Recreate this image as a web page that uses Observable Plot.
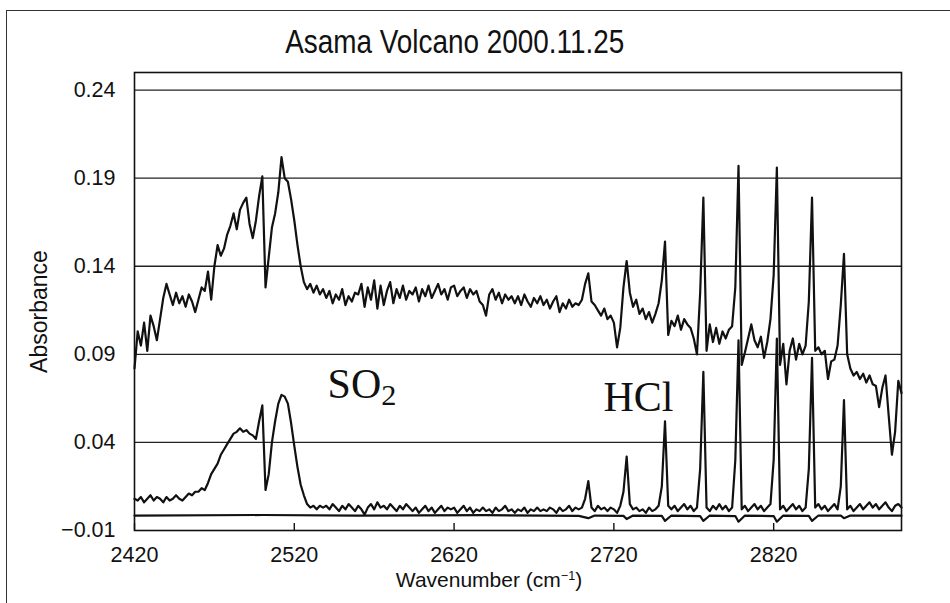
<!DOCTYPE html>
<html>
<head>
<meta charset="utf-8">
<script src="https://cdn.jsdelivr.net/npm/d3@7"></script>
<script src="https://cdn.jsdelivr.net/npm/@observablehq/plot@0.6"></script>
<style>
  body { margin: 0; background: #fff; }
  #wrap { position: relative; width: 950px; height: 603px; overflow: hidden; background: #fff; }
  #title { width: 909px; text-align: center; padding-top: 24px; height: 34px; line-height: 34px;
           font-family: "Liberation Sans", Arial, sans-serif; font-size: 34px; color: #111; }
  #title span { display: inline-block; transform: scaleX(0.82); transform-origin: 50% 50%; white-space: nowrap; }
  #border { position: absolute; left: 6px; top: 10px; width: 1000px; height: 700px;
            border-top: 1.5px solid #333; border-left: 1.5px solid #333; pointer-events: none; }
</style>
</head>
<body>
<div id="wrap">
  <div id="title"><span>Asama Volcano 2000.11.25</span></div>
  <div id="chart"></div>
  <div id="border"></div>
</div>
<script>
// Wavenumber grid of the two measured spectra (cm-1)
const waveStart = 2420;
const waveStep = 2;

// Upper spectrum (offset), absorbance values every 2 cm-1 from 2420 to 2900
const upperAbs = [
  0.082, 0.103, 0.095, 0.108, 0.092, 0.112, 0.106, 0.098, 0.110, 0.122,
  0.130, 0.124, 0.118, 0.125, 0.119, 0.123, 0.117, 0.124, 0.120, 0.114,
  0.121, 0.128, 0.126, 0.137, 0.121, 0.140, 0.152, 0.146, 0.150, 0.158,
  0.163, 0.170, 0.161, 0.172, 0.176, 0.179, 0.164, 0.156, 0.166, 0.180,
  0.191, 0.128, 0.145, 0.162, 0.170, 0.182, 0.202, 0.190, 0.188, 0.178,
  0.166, 0.152, 0.140, 0.131, 0.127, 0.130, 0.125, 0.129, 0.124, 0.127,
  0.122, 0.126, 0.119, 0.124, 0.121, 0.127, 0.118, 0.123, 0.120, 0.125,
  0.124, 0.130, 0.117, 0.128, 0.121, 0.132, 0.116, 0.129, 0.118, 0.126,
  0.131, 0.119, 0.127, 0.122, 0.129, 0.121, 0.126, 0.124, 0.128, 0.120,
  0.127, 0.123, 0.129, 0.122, 0.126, 0.130, 0.124, 0.127, 0.121, 0.128,
  0.129, 0.123, 0.126, 0.128, 0.122, 0.127, 0.124, 0.126, 0.120, 0.118,
  0.112, 0.124, 0.127, 0.121, 0.125, 0.119, 0.124, 0.121, 0.123, 0.119,
  0.123, 0.118, 0.124, 0.120, 0.117, 0.122, 0.119, 0.123, 0.118, 0.121,
  0.116, 0.120, 0.123, 0.114, 0.119, 0.116, 0.121, 0.117, 0.119, 0.118,
  0.121, 0.130, 0.136, 0.120, 0.118, 0.115, 0.112, 0.116, 0.110, 0.112,
  0.108, 0.094, 0.105, 0.128, 0.143, 0.125, 0.117, 0.121, 0.113, 0.116,
  0.110, 0.114, 0.108, 0.113, 0.119, 0.132, 0.154, 0.101, 0.109, 0.106,
  0.112, 0.104, 0.110, 0.107, 0.105, 0.099, 0.090, 0.125, 0.179, 0.092,
  0.107, 0.097, 0.105, 0.096, 0.103, 0.099, 0.104, 0.106, 0.128, 0.197,
  0.084, 0.091, 0.099, 0.107, 0.098, 0.094, 0.100, 0.088, 0.097, 0.110,
  0.135, 0.196, 0.084, 0.096, 0.073, 0.092, 0.099, 0.087, 0.096, 0.090,
  0.095, 0.120, 0.179, 0.092, 0.094, 0.090, 0.092, 0.076, 0.086, 0.087,
  0.095, 0.118, 0.147, 0.090, 0.082, 0.078, 0.080, 0.076, 0.079, 0.074,
  0.078, 0.073, 0.072, 0.060, 0.071, 0.078, 0.055, 0.033, 0.046, 0.075,
  0.068
];

// Lower spectrum, absorbance values every 2 cm-1 from 2420 to 2900
const lowerAbs = [
  0.008, 0.007, 0.009, 0.006, 0.008, 0.010, 0.007, 0.009, 0.008, 0.006,
  0.009, 0.007, 0.008, 0.010, 0.008, 0.007, 0.009, 0.011, 0.010, 0.012,
  0.012, 0.014, 0.013, 0.017, 0.022, 0.025, 0.028, 0.033, 0.036, 0.039,
  0.042, 0.045, 0.046, 0.048, 0.046, 0.047, 0.045, 0.044, 0.042, 0.052,
  0.061, 0.013, 0.022, 0.040, 0.052, 0.062, 0.067, 0.066, 0.062, 0.051,
  0.038, 0.026, 0.016, 0.010, 0.005, 0.003, 0.004, 0.002, 0.004, 0.003,
  0.004, 0.002, 0.005, 0.003, 0.001, 0.004, 0.002, 0.005, 0.003, 0.001,
  0.004, 0.002, -0.001, 0.003, 0.005, 0.002, 0.006, 0.003, 0.004, 0.002,
  0.005, 0.003, 0.001, 0.004, 0.002, 0.005, 0.003, 0.001, 0.003, 0.000,
  0.002, 0.004, 0.001, 0.003, 0.000, 0.002, 0.004, 0.001, 0.003, 0.002,
  0.003, 0.000, 0.002, 0.004, 0.001, 0.003, 0.000, 0.002, 0.001, 0.003,
  0.001, 0.002, 0.000, 0.003, 0.001, 0.002, 0.004, 0.001, 0.002, 0.000,
  0.002, 0.001, 0.003, 0.000, 0.002, 0.001, 0.003, 0.001, 0.002, 0.001,
  0.003, 0.002, 0.000, 0.003, 0.001, 0.002, 0.004, 0.001, 0.003, 0.002,
  0.003, 0.008, 0.018, 0.003, 0.001, 0.004, 0.002, 0.003, 0.001, 0.003,
  0.002, 0.000, 0.004, 0.012, 0.032, 0.005, 0.002, 0.003, 0.001, 0.002,
  0.000, 0.003, 0.001, 0.002, 0.004, 0.015, 0.052, 0.004, 0.002, 0.004,
  0.001, 0.003, 0.005, 0.002, 0.004, 0.001, 0.003, 0.025, 0.080, 0.003,
  0.001, 0.004, 0.002, 0.005, 0.002, 0.004, 0.001, 0.003, 0.030, 0.098,
  0.002, 0.004, 0.001, 0.003, 0.005, 0.002, 0.004, 0.001, 0.003, 0.005,
  0.030, 0.099, 0.002, 0.004, 0.001, 0.003, 0.005, 0.002, 0.004, 0.001,
  0.003, 0.025, 0.088, 0.003, 0.005, 0.002, 0.004, 0.001, 0.003, 0.005,
  0.002, 0.015, 0.064, 0.002, 0.004, 0.001, 0.003, 0.005, 0.002, 0.004,
  0.006, 0.003, 0.005, 0.002, 0.004, 0.006, 0.003, 0.001, 0.004, 0.005,
  0.003
];

// Near-zero baseline trace
const baseWave = [2420, 2500, 2560, 2640, 2698, 2704, 2708, 2726, 2728, 2732, 2750, 2752, 2756,
                  2774, 2776, 2780, 2796, 2798, 2802, 2820, 2822, 2826, 2842, 2844, 2848, 2862, 2864, 2868, 2900];
const baseAbs = [-0.0015, -0.0012, -0.0015, -0.0013, -0.0017, -0.003, -0.0015, -0.0017, -0.0035, -0.0015, -0.0017, -0.0045, -0.0015,
                 -0.0018, -0.0045, -0.0015, -0.0018, -0.005, -0.0015, -0.0018, -0.005, -0.0015, -0.0017, -0.0045, -0.0015, -0.0016, -0.003, -0.0015, -0.0016];

// Axes
const xTicks = [2420, 2520, 2620, 2720, 2820];
const yTicks = [-0.01, 0.04, 0.09, 0.14, 0.19, 0.24];

// Annotations (gas names) and their anchor positions in data units
const labelText = ["SO2", "HCl"];
const labelWave = [2540.8, 2713.5];
const labelAbs = [0.0652, 0.0578];

// ---- build tables
const upperRows = upperAbs.map((a, i) => ({w: waveStart + i * waveStep, a}));
const lowerRows = lowerAbs.map((a, i) => ({w: waveStart + i * waveStep, a}));
const baseRows = baseWave.map((w, i) => ({w, a: baseAbs[i]}));
const labelRows = labelText.map((t, i) => ({t, w: labelWave[i], a: labelAbs[i]}));

const ink = "#111";
const plot = Plot.plot({
  width: 950,
  height: 545,
  marginTop: 14,
  marginBottom: 73,
  marginLeft: 134,
  marginRight: 49,
  style: {fontFamily: "'Liberation Sans', Arial, sans-serif", fontSize: "21.5px", color: ink, background: "transparent", overflow: "visible"},
  x: {domain: [2420, 2900]},
  y: {domain: [-0.01, 0.25]},
  marks: [
    Plot.ruleY(yTicks.slice(1), {stroke: "#222", strokeWidth: 1.3}),
    Plot.tickX(xTicks, {stroke: ink, strokeWidth: 1.4, insetTop: 451}),
    Plot.line(baseRows, {x: "w", y: "a", stroke: ink, strokeWidth: 2.2}),
    Plot.line(lowerRows, {x: "w", y: "a", stroke: ink, strokeWidth: 2.2}),
    Plot.line(upperRows, {x: "w", y: "a", stroke: ink, strokeWidth: 2.2}),
    Plot.frame({stroke: ink, strokeWidth: 1.6}),
    Plot.axisY(yTicks, {tickSize: 0, tickPadding: 19, tickFormat: d3.format(".2f"), label: null, fontSize: 21.5}),
    Plot.axisX(xTicks, {tickSize: 0, tickPadding: 16, tickFormat: d => String(d), label: null, fontSize: 21.5}),
    Plot.text(labelRows, {x: "w", y: "a", text: "t", textAnchor: "start", lineAnchor: "bottom",
      fontFamily: "'Liberation Serif', 'Times New Roman', serif", fontSize: 42, fill: ink}),
    Plot.text(["Absorbance"], {text: d => d, frameAnchor: "left", textAnchor: "middle", lineAnchor: "middle",
      dx: -95, dy: 10, rotate: -90, fontSize: 23, fill: ink}),
    Plot.text(["Wavenumber (cm-1)"], {text: d => d, frameAnchor: "bottom", textAnchor: "middle", lineAnchor: "middle",
      dx: -29, dy: 50, fontSize: 21, fill: ink})
  ]
});
document.getElementById("chart").appendChild(plot);

// Typographic sub/superscripts as real text
const NS = "http://www.w3.org/2000/svg";
plot.querySelectorAll("text").forEach(t => {
  if (t.textContent === "SO2") {
    t.textContent = "SO";
    const s = document.createElementNS(NS, "tspan");
    s.setAttribute("font-size", "0.72em");
    s.setAttribute("dy", "0.22em");
    s.textContent = "2";
    t.appendChild(s);
  } else if (t.textContent === "Wavenumber (cm-1)") {
    t.textContent = "Wavenumber (cm";
    const s = document.createElementNS(NS, "tspan");
    s.setAttribute("font-size", "0.6em");
    s.setAttribute("dy", "-0.6em");
    s.textContent = "−1";
    t.appendChild(s);
    const c = document.createElementNS(NS, "tspan");
    c.setAttribute("dy", "0.36em");
    c.textContent = ")";
    t.appendChild(c);
  }
});
</script>
</body>
</html>
